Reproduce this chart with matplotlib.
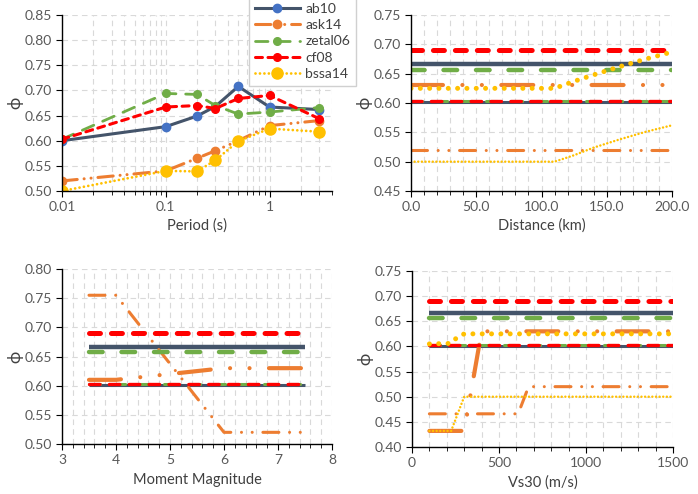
import matplotlib
matplotlib.use("Agg")
import matplotlib.pyplot as plt
from matplotlib.ticker import MultipleLocator, FixedLocator, FuncFormatter, LogLocator, NullFormatter

plt.rcParams['font.family'] = ['Lato', 'DejaVu Sans']
plt.rcParams['lines.scale_dashes'] = False

# ---- panel 1: phi vs period
period = [0.01, 0.1, 0.2, 0.3, 0.5, 1.0, 3.0]
per_ab10 = [0.600, 0.628, 0.649, 0.668, 0.708, 0.667, 0.662]
per_ask14 = [0.520, 0.540, 0.565, 0.580, 0.600, 0.630, 0.640]
per_zetal06 = [0.603, 0.694, 0.692, 0.670, 0.653, 0.657, 0.666]
per_cf08 = [0.603, 0.667, 0.670, 0.664, 0.684, 0.690, 0.644]
per_bssa14 = [0.500, 0.540, 0.539, 0.561, 0.599, 0.624, 0.618]

# ---- panel 2: phi vs distance (thick = T 1 s, thin = T 0.01 s)
dist = [0.0, 200.0]
dist_ab10 = [0.667, 0.667]
dist_ab10_t = [0.601, 0.601]
dist_ask14 = [0.630, 0.630]
dist_ask14_t = [0.520, 0.520]
dist_zetal06 = [0.657, 0.657]
dist_zetal06_t = [0.603, 0.603]
dist_cf08 = [0.690, 0.690]
dist_cf08_t = [0.603, 0.603]
dist_bssa = [0.0, 110.0, 125.0, 140.0, 160.0, 180.0, 200.0]
dist_bssa14 = [0.625, 0.625, 0.637, 0.648, 0.662, 0.675, 0.687]
dist_bssa14_t = [0.500, 0.500, 0.511, 0.524, 0.538, 0.551, 0.562]

# ---- panel 3: phi vs magnitude
mag = [3.5, 7.5]
mag_ab10 = [0.667, 0.667]
mag_ab10_t = [0.601, 0.601]
mag_zetal06 = [0.657, 0.657]
mag_zetal06_t = [0.603, 0.603]
mag_cf08 = [0.690, 0.690]
mag_cf08_t = [0.603, 0.603]
mag_ask = [3.5, 4.0, 6.0, 7.5]
mag_ask14 = [0.610, 0.610, 0.630, 0.630]
mag_ask14_t = [0.755, 0.755, 0.520, 0.520]

# ---- panel 4: phi vs Vs30
vs = [100.0, 1500.0]
vs_ab10 = [0.667, 0.667]
vs_ab10_t = [0.601, 0.601]
vs_zetal06 = [0.657, 0.657]
vs_zetal06_t = [0.603, 0.603]
vs_cf08 = [0.690, 0.690]
vs_cf08_t = [0.603, 0.603]
vs_ask = [100.0, 300.0, 400.0, 1500.0]
vs_ask14 = [0.432, 0.432, 0.630, 0.630]
vs_ask_t = [100.0, 610.0, 670.0, 1500.0]
vs_ask14_t = [0.466, 0.466, 0.520, 0.520]
vs_bssa = [100.0, 220.0, 260.0, 300.0, 1500.0]
vs_bssa14 = [0.605, 0.606, 0.618, 0.625, 0.625]
vs_bssa_t = [100.0, 225.0, 300.0, 1500.0]
vs_bssa14_t = [0.432, 0.432, 0.500, 0.500]

names = ['ab10', 'ask14', 'zetal06', 'cf08', 'bssa14']
C_AB = '#44546A'
C_ABM = '#4472C4'
C_ASK = '#ED7D31'
C_ZET = '#70AD47'
C_CF = '#FF0000'
C_BS = '#FFC000'

thick = {
    'ab10': dict(color=C_AB, lw=3.2, ls='-', solid_capstyle='butt'),
    'ask14': dict(color=C_ASK, lw=3.0, ls=(0, (23, 14, 0.01, 14, 0.01, 14)), dash_capstyle='round'),
    'zetal06': dict(color=C_ZET, lw=3.2, ls=(0, (9.8, 13.6)), dash_capstyle='round'),
    'cf08': dict(color=C_CF, lw=3.6, ls=(0, (7.9, 7.9)), dash_capstyle='round'),
    'bssa14': dict(color=C_BS, lw=3.6, ls=(0, (0.01, 6.7)), dash_capstyle='round'),
}
thin = {
    'ab10': dict(color=C_AB, lw=2.2, ls='-', solid_capstyle='butt'),
    'ask14': dict(color=C_ASK, lw=2.2, ls=(0, (11.5, 7.7, 0.01, 7.7, 0.01, 7.7)), dash_capstyle='round'),
    'zetal06': dict(color=C_ZET, lw=2.2, ls=(0, (8, 10)), dash_capstyle='round'),
    'cf08': dict(color=C_CF, lw=2.4, ls=(0, (7.6, 6.7)), dash_capstyle='round'),
    'bssa14': dict(color=C_BS, lw=1.8, ls=(0, (0.01, 2.6)), dash_capstyle='round'),
}

TICK_C = '#595959'
LAB_C = '#404040'
GRID_KW = dict(color='#d9d9d9', lw=0.8, ls=(0, (4, 3)))
TICK_FS = 10
LAB_FS = 10.5

fig = plt.figure(figsize=(6.98, 4.94), dpi=100)
W, H = 698.0, 494.0


def make_ax(x0, x1, ytop, ybot):
    ax = fig.add_axes([x0 / W, 1 - ybot / H, (x1 - x0) / W, (ybot - ytop) / H])
    for s in ['top', 'right']:
        ax.spines[s].set_visible(False)
    for s in ['left', 'bottom']:
        ax.spines[s].set_color('#000000')
        ax.spines[s].set_linewidth(1.0)
    ax.tick_params(which='both', direction='out', colors='#000000', labelcolor=TICK_C, labelsize=TICK_FS)
    ax.tick_params(which='major', length=4, pad=3)
    ax.tick_params(which='minor', length=3)
    ax.tick_params(axis='y', which='minor', left=False)
    ax.set_axisbelow(True)
    ax.set_ylabel('ϕ', fontsize=12, color=LAB_C, labelpad=1)
    ax.yaxis.set_major_locator(MultipleLocator(0.05))
    ax.yaxis.set_major_formatter(FuncFormatter(lambda v, p: '%.2f' % v))
    return ax


# panel 1
ax1 = make_ax(62, 332, 15, 191)
ax1.set_xscale('log')
ax1.set_xlim(0.01, 4.0)
ax1.set_ylim(0.50, 0.85)
ax1.xaxis.set_major_locator(FixedLocator([0.01, 0.1, 1]))
ax1.xaxis.set_major_formatter(FuncFormatter(lambda v, p: '%g' % v))
ax1.xaxis.set_minor_locator(LogLocator(base=10, subs=range(2, 10)))
ax1.xaxis.set_minor_formatter(NullFormatter())
ax1.grid(True, which='both', axis='x', **GRID_KW)
ax1.grid(True, which='major', axis='y', **GRID_KW)
ax1.set_xlabel('Period (s)', fontsize=LAB_FS, color=LAB_C, labelpad=4)

p1 = {
    'ab10': (per_ab10, dict(color=C_AB, lw=2.2, ls='-', marker='o', ms=6, mfc=C_ABM, mec=C_ABM)),
    'ask14': (per_ask14, dict(color=C_ASK, lw=2.2, ls=(0, (11, 5, 0.01, 5, 0.01, 5)), dash_capstyle='round',
                              marker='o', ms=6, mfc=C_ASK, mec=C_ASK)),
    'zetal06': (per_zetal06, dict(color=C_ZET, lw=2.0, ls=(0, (9, 7)), dash_capstyle='round',
                                  marker='o', ms=5.5, mfc=C_ZET, mec=C_ZET)),
    'cf08': (per_cf08, dict(color=C_CF, lw=2.2, ls=(0, (5, 4)), dash_capstyle='round',
                            marker='o', ms=5.5, mfc=C_CF, mec=C_CF)),
    'bssa14': (per_bssa14, dict(color=C_BS, lw=2.0, ls=(0, (0.01, 3.2)), dash_capstyle='round',
                                marker='o', ms=8, mfc=C_BS, mec=C_BS)),
}
handles = []
for n in names:
    vals, kw = p1[n]
    h, = ax1.plot(period, vals, label=n, **kw)
    handles.append(h)

# panel 2
ax2 = make_ax(411, 672, 15, 191)
ax2.set_xlim(0, 200)
ax2.set_ylim(0.45, 0.75)
ax2.xaxis.set_major_locator(MultipleLocator(50))
ax2.xaxis.set_major_formatter(FuncFormatter(lambda v, p: '%.1f' % v))
ax2.xaxis.set_minor_locator(MultipleLocator(10))
ax2.grid(True, which='both', axis='x', **GRID_KW)
ax2.grid(True, which='major', axis='y', **GRID_KW)
ax2.set_xlabel('Distance (km)', fontsize=LAB_FS, color=LAB_C, labelpad=4)

ax2.plot(dist, dist_ab10, **thick['ab10'])
ax2.plot(dist, dist_ab10_t, **thin['ab10'])
ax2.plot(dist, dist_ask14, **thick['ask14'])
ax2.plot(dist, dist_ask14_t, **thin['ask14'])
ax2.plot(dist, dist_zetal06, **thick['zetal06'])
ax2.plot(dist, dist_zetal06_t, **thin['zetal06'])
ax2.plot(dist, dist_cf08, **thick['cf08'])
ax2.plot(dist, dist_cf08_t, **thin['cf08'])
ax2.plot(dist_bssa, dist_bssa14, **thick['bssa14'])
ax2.plot(dist_bssa, dist_bssa14_t, **thin['bssa14'])

# panel 3
ax3 = make_ax(62, 332, 269, 444)
ax3.set_xlim(3, 8)
ax3.set_ylim(0.50, 0.80)
ax3.xaxis.set_major_locator(MultipleLocator(1))
ax3.xaxis.set_minor_locator(MultipleLocator(0.2))
ax3.grid(True, which='both', axis='x', **GRID_KW)
ax3.grid(True, which='major', axis='y', **GRID_KW)
ax3.set_xlabel('Moment Magnitude', fontsize=LAB_FS, color=LAB_C, labelpad=5)

ax3.plot(mag, mag_ab10, **thick['ab10'])
ax3.plot(mag, mag_ab10_t, **thin['ab10'])
ax3.plot(mag_ask, mag_ask14, **thick['ask14'])
ax3.plot(mag_ask, mag_ask14_t, **thin['ask14'])
ax3.plot(mag, mag_zetal06, **thick['zetal06'])
ax3.plot(mag, mag_zetal06_t, **thin['zetal06'])
ax3.plot(mag, mag_cf08, **thick['cf08'])
ax3.plot(mag, mag_cf08_t, **thin['cf08'])

# panel 4
ax4 = make_ax(412, 673, 271, 447)
ax4.set_xlim(0, 1500)
ax4.set_ylim(0.40, 0.75)
ax4.xaxis.set_major_locator(MultipleLocator(500))
ax4.xaxis.set_minor_locator(MultipleLocator(100))
ax4.grid(True, which='both', axis='x', **GRID_KW)
ax4.grid(True, which='major', axis='y', **GRID_KW)
ax4.set_xlabel('Vs30 (m/s)', fontsize=LAB_FS, color=LAB_C, labelpad=5)

ax4.plot(vs, vs_ab10, **thick['ab10'])
ax4.plot(vs, vs_ab10_t, **thin['ab10'])
ax4.plot(vs_ask, vs_ask14, **thick['ask14'])
ax4.plot(vs_ask_t, vs_ask14_t, **thin['ask14'])
ax4.plot(vs, vs_zetal06, **thick['zetal06'])
ax4.plot(vs, vs_zetal06_t, **thin['zetal06'])
ax4.plot(vs, vs_cf08, **thick['cf08'])
ax4.plot(vs, vs_cf08_t, **thin['cf08'])
ax4.plot(vs_bssa, vs_bssa14, **thick['bssa14'])
ax4.plot(vs_bssa_t, vs_bssa14_t, **thin['bssa14'])

leg = fig.legend(handles, names, loc='upper left', bbox_to_anchor=(249 / W, 1.0 + 3 / H),
                 fontsize=10, numpoints=1, handlelength=3.3, handletextpad=0.35,
                 labelspacing=0.32, borderpad=0.4, borderaxespad=0, fancybox=False,
                 framealpha=1, edgecolor='#d0d0d0')
for t in leg.get_texts():
    t.set_color(LAB_C)

fig.savefig('out.png', dpi=100)
